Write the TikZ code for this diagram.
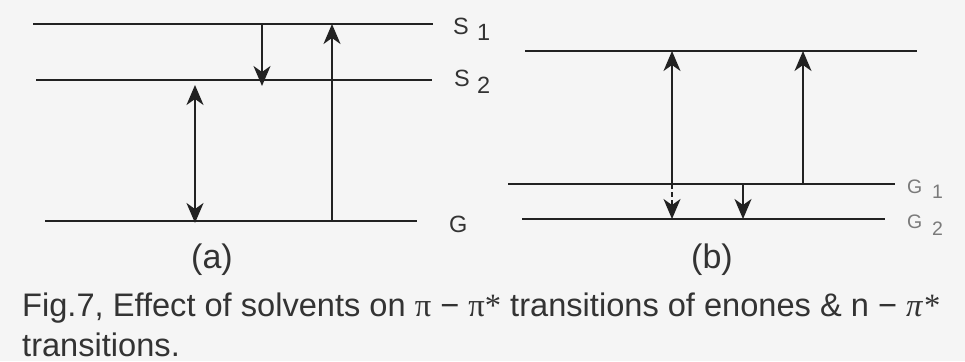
\documentclass[tikz,border=0pt]{standalone}
\usepackage{fontspec}
\setmainfont{Liberation Sans}
\newfontfamily\pifont{Liberation Serif}
\usetikzlibrary{arrows.meta}
\definecolor{ink}{HTML}{222222}
\definecolor{txt}{HTML}{333333}
\definecolor{bg}{HTML}{F5F5F5}
\tikzset{
  level/.style={draw=ink, line width=2.1pt},
  thinlevel/.style={draw=ink, line width=1.7pt},
  thicklevel/.style={draw=ink, line width=2.8pt},
  trans/.style={draw=ink, line width=1.6pt, -{Stealth[length=20pt,width=17pt,inset=6pt]}},
  transboth/.style={draw=ink, line width=1.6pt, {Stealth[length=20pt,width=17pt,inset=6pt]}-{Stealth[length=20pt,width=17pt,inset=6pt]}},
  transdash/.style={trans, dash pattern=on 5pt off 3pt},
  lbl/.style={text=txt, inner sep=0pt, anchor=base west, font=\fontsize{23.5}{26}\selectfont},
  lbls/.style={text=txt!65, inner sep=0pt, anchor=base west, font=\fontsize{19.5}{22}\selectfont},
  tagtxt/.style={text=txt, inner sep=0pt, anchor=base, font=\fontsize{34}{38}\selectfont},
  captxt/.style={text=txt, inner sep=0pt, anchor=base west, font=\fontsize{32.6}{36}\selectfont},
}
\begin{document}
\begin{tikzpicture}[x=1pt,y=-1pt]
\useasboundingbox[fill=bg] (0,0) rectangle (965,361);
% ---------- panel (a) ----------
\coordinate (s1l) at (33,24);  \coordinate (s1r) at (433,24);
\coordinate (s2l) at (36,80);  \coordinate (s2r) at (432,80);
\coordinate (gl)  at (45,221); \coordinate (gr)  at (417,221);
\draw[level] (s1l) -- (s1r);
\draw[level] (s2l) -- (s2r);
\draw[level] (gl) -- (gr);
\coordinate (a1t) at (262,24);  \coordinate (a1b) at (262,86);
\coordinate (a2t) at (195,85);  \coordinate (a2b) at (195,223);
\coordinate (a3b) at (332,221); \coordinate (a3t) at (332,24);
\draw[trans] (a1t) -- (a1b);
\draw[transboth] (a2t) -- (a2b);
\draw[trans] (a3b) -- (a3t);
\node[lbl] (s1) at (453,35) {S};
\node[lbl] (s1i) at (477,41) {1};
\node[lbl] (s2) at (454,86) {S};
\node[lbl] (s2i) at (477,93) {2};
\node[lbl] (g) at (449,232) {G};
\node[tagtxt] (ta) at (212,268) {(a)};
% ---------- panel (b) ----------
\coordinate (tl) at (525,51);  \coordinate (tright) at (917,51);
\coordinate (g1l) at (508,184); \coordinate (g1r) at (895,184);
\coordinate (g2l) at (522,219); \coordinate (g2r) at (885,219);
\draw[thinlevel] (tl) -- (tright);
\draw[level] (g1l) -- (g1r);
\draw[thicklevel] (g2l) -- (g2r);
\coordinate (b1b) at (672,184); \coordinate (b1t) at (672,51);
\coordinate (b1d) at (672,219);
\coordinate (b2b) at (803,184); \coordinate (b2t) at (803,51);
\coordinate (b3t) at (743,184); \coordinate (b3b) at (743,219);
\draw[trans] (b1b) -- (b1t);
\draw[transdash] (b1b) -- (b1d);
\draw[trans] (b2b) -- (b2t);
\draw[trans] (b3t) -- (b3b);
\node[lbls] (g1) at (907,193) {G};
\node[lbls] (g1i) at (932,198) {1};
\node[lbls] (g2) at (907,228) {G};
\node[lbls] (g2i) at (932,235) {2};
\node[tagtxt] (tb) at (712,268) {(b)};
% ---------- caption ----------
\node[captxt] (c1) at (22,316) {Fig.7, Effect of solvents on {\pifont π} − {\pifont π*} transitions of enones \& n − {\pifont\itshape π*}};
\node[captxt] (c2) at (22,356) {transitions.};
\end{tikzpicture}
\end{document}
